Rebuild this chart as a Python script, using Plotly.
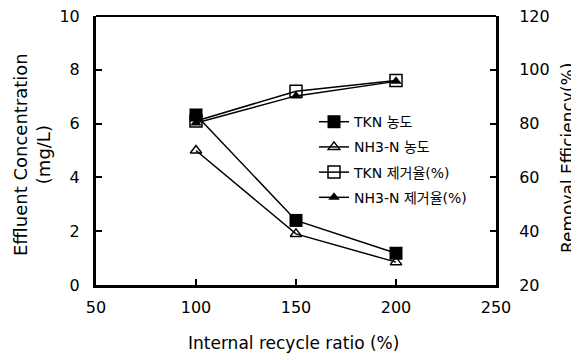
import plotly.graph_objects as go

ratio = [100, 150, 200]
tkn_conc = [6.32, 2.4, 1.18]
nh3_conc = [5.0, 1.9, 0.85]
tkn_rem = [81.0, 92.0, 96.0]
nh3_rem = [80.2, 90.3, 95.7]

names = ["TKN 농도", "NH3-N 농도", "TKN 제거율(%)", "NH3-N 제거율(%)"]

FONT = "DejaVu Sans, Noto Sans CJK KR, sans-serif"

# plot area in screenshot pixels: x 96..496, y 16..285 (page body adds an 8px offset)
L, T, PW, PH = 96 - 8, 16 - 8, 400, 269
W, H = 579, 360

fig = go.Figure()
line = dict(color="black", width=1.5)
fig.add_trace(go.Scatter(x=ratio, y=tkn_rem, name=names[2], mode="lines+markers", yaxis="y2",
                         line=line, legendgroup="c", legendrank=3,
                         marker=dict(symbol="square-open", size=12, color="black", line=dict(width=1.5))))
fig.add_trace(go.Scatter(x=ratio, y=nh3_rem, name=names[3], mode="lines+markers", yaxis="y2",
                         line=line, legendgroup="d", legendrank=4,
                         marker=dict(symbol="triangle-up", size=10, color="black")))
fig.add_trace(go.Scatter(x=ratio, y=nh3_conc, name=names[1], mode="lines+markers",
                         line=line, legendgroup="b", legendrank=2,
                         marker=dict(symbol="triangle-up-open", size=10, color="black", line=dict(width=1.5))))
fig.add_trace(go.Scatter(x=ratio, y=tkn_conc, name=names[0], mode="lines+markers",
                         line=line, legendgroup="a", legendrank=1,
                         marker=dict(symbol="square", size=13, color="black")))

tickfont = dict(family=FONT, size=16, color="black")
fig.update_layout(
    width=W, height=H,
    margin=dict(l=L, r=W - L - PW, t=T, b=H - T - PH, autoexpand=False),
    paper_bgcolor="white", plot_bgcolor="white",
    font=dict(family=FONT, color="black"),
    showlegend=True,
    legend=dict(x=0.545, y=0.665, xanchor="left", yanchor="top", bgcolor="rgba(0,0,0,0)",
                font=dict(family=FONT, size=14, color="black"), tracegroupgap=4,
                traceorder="grouped"),
    xaxis=dict(range=[50, 250], dtick=50, tick0=50, showgrid=False, zeroline=False,
               showline=True, linewidth=3, linecolor="black",
               ticks="inside", ticklen=6, tickwidth=2, tickcolor="black",
               tickfont=tickfont, ticklabelstandoff=6, ticklabeloverflow="allow"),
    yaxis=dict(range=[0, 10], dtick=2, showgrid=False, zeroline=False,
               showline=True, linewidth=3, linecolor="black",
               ticks="inside", ticklen=6, tickwidth=2, tickcolor="black",
               tickfont=tickfont, ticklabelstandoff=10, ticklabeloverflow="allow"),
    yaxis2=dict(range=[20, 120], dtick=20, overlaying="y", side="right", showgrid=False, zeroline=False,
                showline=True, linewidth=3, linecolor="black",
                ticks="inside", ticklen=6, tickwidth=2, tickcolor="black",
                tickfont=tickfont, ticklabelstandoff=17, ticklabeloverflow="allow"),
    shapes=[dict(type="line", xref="paper", yref="paper", x0=0, x1=1, y0=1, y1=1,
                 line=dict(color="black", width=2))],
    annotations=[
        dict(text="Effluent Concentration<br>(mg/L)", xref="paper", yref="paper",
             x=(32 - 96) / 400, y=(285 - 155) / 269, xanchor="center", yanchor="middle",
             textangle=-90, showarrow=False, font=dict(family=FONT, size=18, color="black")),
        dict(text="Removal Efficiency(%)", xref="paper", yref="paper",
             x=(568 - 96) / 400, y=(285 - 158) / 269, xanchor="center", yanchor="middle",
             textangle=-90, showarrow=False, font=dict(family=FONT, size=17, color="black")),
        dict(text="Internal recycle ratio (%)", xref="paper", yref="paper",
             x=(293 - 96) / 400, y=-(343 - 285) / 269, xanchor="center", yanchor="middle",
             showarrow=False, font=dict(family=FONT, size=17, color="black")),
    ],
)

fig.write_html("out.html")
